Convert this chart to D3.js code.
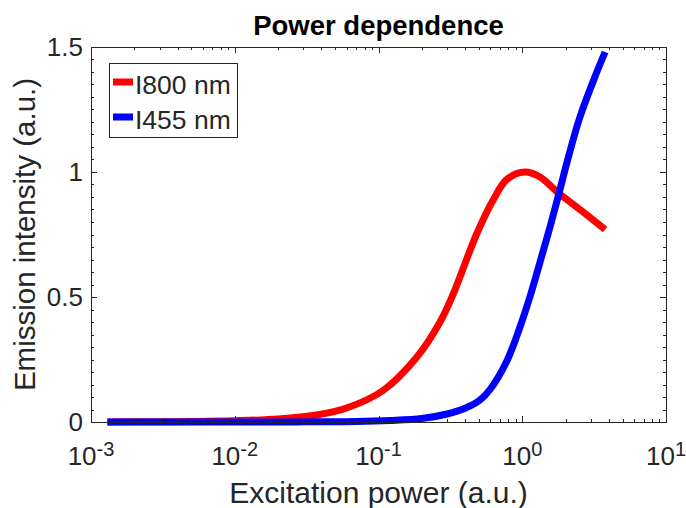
<!DOCTYPE html>
<html>
<head>
<meta charset="utf-8">
<script src="https://cdn.jsdelivr.net/npm/d3@7"></script>
<style>
  body { margin: 0; background: #fff; }
  svg text { font-family: "Liberation Sans", Arial, Helvetica, sans-serif; fill: #262626; }
</style>
</head>
<body>
<div id="chart"></div>
<script>
'use strict';

// values
const powerRed = [0.0013, 0.003, 0.005, 0.01, 0.02, 0.037, 0.06, 0.107, 0.185, 0.268, 0.33, 0.48, 0.63, 0.78, 1.04, 1.33, 1.75, 2.52, 3.77];
const i800 = [0, 0.001, 0.002, 0.005, 0.012, 0.028, 0.056, 0.125, 0.26, 0.4, 0.51, 0.75, 0.89, 0.97, 1.0, 0.98, 0.92, 0.85, 0.77];

const powerBlue = [0.0013, 0.01, 0.03, 0.07, 0.12, 0.2, 0.3, 0.4, 0.508, 0.597, 0.783, 0.964, 1.13, 1.33, 1.56, 1.83, 2.05, 2.52, 3.2, 3.77];
const i455 = [0, 0, 0.0005, 0.002, 0.006, 0.014, 0.032, 0.055, 0.088, 0.13, 0.245, 0.38, 0.5, 0.64, 0.78, 0.93, 1.04, 1.22, 1.38, 1.48];

const xDecades = [-3, -2, -1, 0, 1];
const yTicks = [0, 0.5, 1, 1.5];
const yTickLabels = ["0", "0.5", "1", "1.5"];

const seriesNames = ["I800 nm", "I455 nm"];
const seriesColors = ["#ff0000", "#0000ff"];

const width = 686, height = 508;
const margin = {top: 47, right: 20, bottom: 86, left: 91};
const plotW = width - margin.left - margin.right;
const plotH = height - margin.top - margin.bottom;

const svg = d3.select("#chart").append("svg")
    .attr("width", width)
    .attr("height", height);

const x = d3.scaleLog().domain([1e-3, 1e1]).range([0, plotW]);
const y = d3.scaleLinear().domain([0, 1.5]).range([plotH, 0]);

const plot = svg.append("g")
    .attr("transform", `translate(${margin.left},${margin.top})`);

// curves
const line = d3.line()
    .x(d => x(d[0]))
    .y(d => y(d[1]))
    .curve(d3.curveCatmullRom.alpha(0.5));

const series = [
    d3.zip(powerRed, i800),
    d3.zip(powerBlue, i455)
];

plot.append("g")
    .attr("fill", "none")
    .attr("stroke-width", 7)
    .attr("stroke-linejoin", "round")
  .selectAll("path")
    .data(series)
    .join("path")
    .attr("stroke", (d, i) => seriesColors[i])
    .attr("d", line);

// box + inward ticks on all four sides
const axisColor = "#262626";
const ticks = plot.append("g")
    .attr("stroke", axisColor)
    .attr("stroke-width", 1)
    .attr("shape-rendering", "crispEdges");

const xAll = x.ticks();
xAll.forEach(v => {
    const major = Math.abs(Math.log10(v) - Math.round(Math.log10(v))) < 1e-9;
    const len = major ? 6 : 3;
    const px = Math.round(x(v)) + 0.5;
    ticks.append("line").attr("x1", px).attr("x2", px).attr("y1", plotH).attr("y2", plotH - len);
    ticks.append("line").attr("x1", px).attr("x2", px).attr("y1", 0).attr("y2", len);
});

const yMinor = d3.range(0, 1.5001, 0.05);
yMinor.forEach(v => {
    const major = yTicks.some(t => Math.abs(t - v) < 1e-9);
    const len = major ? 6 : 3;
    const py = Math.round(y(v)) + 0.5;
    ticks.append("line").attr("x1", 0).attr("x2", len).attr("y1", py).attr("y2", py);
    ticks.append("line").attr("x1", plotW).attr("x2", plotW - len).attr("y1", py).attr("y2", py);
});

plot.append("rect")
    .attr("x", 0.5).attr("y", 0.5)
    .attr("width", plotW).attr("height", plotH)
    .attr("fill", "none")
    .attr("stroke", axisColor)
    .attr("stroke-width", 1)
    .attr("shape-rendering", "crispEdges");

// tick labels
const xLab = plot.append("g").attr("font-size", 26).attr("text-anchor", "middle");
xDecades.forEach(e => {
    const t = xLab.append("text")
        .attr("x", x(Math.pow(10, e)))
        .attr("y", plotH + 43);
    t.append("tspan").text("10");
    t.append("tspan").attr("font-size", 20).attr("dy", -9).text(e);
});

plot.append("g").attr("font-size", 26).attr("text-anchor", "end")
  .selectAll("text")
    .data(yTicks)
    .join("text")
    .attr("x", -8)
    .attr("y", d => y(d) + 9)
    .text((d, i) => yTickLabels[i]);

// titles
svg.append("text")
    .attr("x", margin.left + plotW / 2)
    .attr("y", 35)
    .attr("text-anchor", "middle")
    .attr("font-size", 27.5)
    .attr("font-weight", "bold")
    .style("fill", "#000")
    .text("Power dependence");

svg.append("text")
    .attr("x", margin.left + plotW / 2)
    .attr("y", 503)
    .attr("text-anchor", "middle")
    .attr("font-size", 30)
    .text("Excitation power (a.u.)");

svg.append("text")
    .attr("transform", `translate(35,${margin.top + plotH / 2}) rotate(-90)`)
    .attr("text-anchor", "middle")
    .attr("font-size", 29.5)
    .text("Emission intensity (a.u.)");

// legend
const legend = plot.append("g").attr("transform", "translate(18,16)");
legend.append("rect")
    .attr("x", 0.5).attr("y", 0.5)
    .attr("width", 128).attr("height", 74)
    .attr("fill", "#fff")
    .attr("stroke", axisColor)
    .attr("stroke-width", 1)
    .attr("shape-rendering", "crispEdges");

const item = legend.selectAll("g.item")
    .data(seriesNames)
    .join("g")
    .attr("class", "item")
    .attr("transform", (d, i) => `translate(0,${19 + i * 35})`);

item.append("line")
    .attr("x1", 4).attr("x2", 24)
    .attr("stroke-width", 7)
    .attr("stroke", (d, i) => seriesColors[i]);

item.append("text")
    .attr("x", 26)
    .attr("y", 12)
    .attr("font-size", 26.5)
    .text(d => d);
</script>
</body>
</html>
